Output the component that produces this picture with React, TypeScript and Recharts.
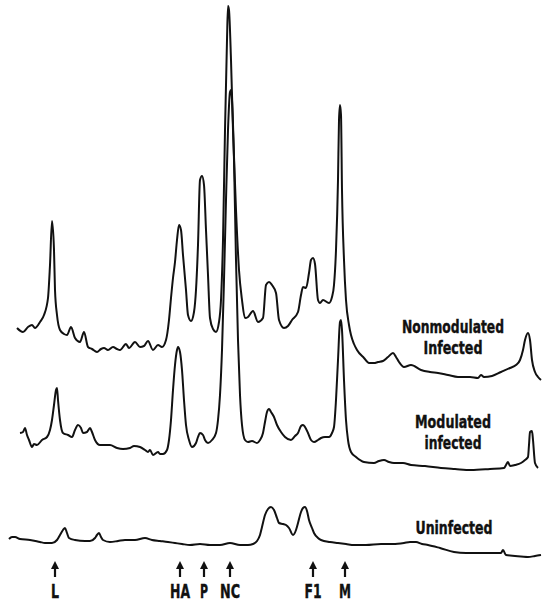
import { LineChart, Line, XAxis, YAxis, ReferenceDot } from 'recharts'

// densitometer scans: x = migration position, y = scan height (axis reversed)
const nonmodulated = [
  [17, 328], [23, 332], [28, 327], [32, 325], [35, 328], [40, 322], [44, 315], [48, 298], [50, 265], [52, 221],
  [54, 250], [55, 290], [57, 315], [60, 330], [64, 334], [67, 335], [71, 327], [75, 338], [80, 342], [84, 332],
  [88, 347], [92, 349], [97, 352], [101, 349], [104, 348], [108, 350], [113, 347], [117, 349], [120, 350], [126, 344],
  [129, 348], [135, 342], [140, 347], [144, 346], [148, 341], [153, 350], [158, 345], [162, 347], [166, 340], [169, 320],
  [171, 298], [173, 278], [175, 262], [177, 240], [179, 225], [181, 230], [183, 255], [186, 290], [188, 315], [191, 321],
  [194, 312], [196, 290], [198, 245], [200, 180], [202, 176], [204, 185], [206, 230], [208, 275], [210, 318], [213, 329],
  [216, 332], [219, 322], [221, 300], [223, 240], [225, 130], [227, 40], [228, 6], [229, 10], [231, 60], [233, 130],
  [236, 210], [239, 270], [242, 300], [245, 318], [248, 317], [253, 311], [258, 322], [263, 318], [266, 285], [269, 282],
  [272, 285], [276, 293], [279, 320], [284, 328], [288, 326], [292, 320], [298, 312], [301, 295], [303, 287], [306, 288],
  [309, 273], [311, 260], [313, 258], [315, 264], [318, 300], [320, 303], [323, 300], [329, 303], [332, 297], [334, 285],
  [336, 250], [338, 180], [339, 120], [340, 105], [341, 115], [342, 190], [344, 260], [346, 300], [349, 325], [351, 335],
  [354, 344], [357, 350], [364, 358], [369, 363], [374, 363], [378, 362], [383, 361], [388, 357], [393, 353], [396, 357],
  [399, 362], [404, 367], [411, 365], [421, 370], [430, 372], [438, 373], [448, 375], [458, 377], [470, 377], [478, 378],
  [481, 375], [484, 377], [492, 376], [501, 372], [510, 368], [516, 365], [520, 360], [523, 350], [525, 340], [528, 333],
  [530, 340], [532, 360], [535, 372], [538, 377], [541, 380],
]

const modulated = [
  [20, 433], [23, 432], [25, 428], [27, 435], [29, 440], [32, 447], [34, 444], [37, 445], [42, 440], [47, 437],
  [50, 430], [52, 420], [54, 405], [56, 390], [57, 388], [58, 400], [60, 420], [63, 433], [68, 435], [72, 437],
  [75, 430], [78, 425], [81, 428], [83, 433], [87, 432], [90, 428], [92, 432], [95, 440], [100, 445], [105, 445],
  [110, 445], [117, 448], [123, 449], [130, 448], [134, 446], [140, 447], [145, 450], [148, 452], [150, 450], [153, 455],
  [158, 452], [160, 454], [163, 454], [167, 450], [169, 440], [171, 420], [173, 390], [175, 365], [177, 350], [178, 347],
  [180, 352], [182, 370], [184, 400], [186, 425], [189, 440], [192, 447], [196, 443], [198, 437], [200, 433], [203, 435],
  [205, 440], [208, 443], [212, 440], [216, 433], [218, 420], [220, 395], [222, 350], [224, 280], [226, 200], [228, 130],
  [230, 92], [231, 90], [232, 100], [234, 160], [236, 260], [238, 340], [240, 395], [242, 425], [245, 440], [248, 442],
  [252, 441], [257, 443], [260, 440], [263, 433], [265, 422], [267, 412], [269, 409], [271, 412], [274, 417], [277, 425],
  [281, 432], [285, 437], [291, 440], [295, 436], [298, 433], [301, 426], [303, 425], [305, 427], [308, 433], [311, 440],
  [314, 442], [318, 440], [321, 438], [325, 437], [329, 437], [332, 433], [334, 427], [336, 400], [338, 360], [340, 322],
  [341, 320], [342, 330], [344, 380], [346, 420], [348, 440], [351, 452], [356, 457], [364, 462], [374, 463], [379, 461],
  [384, 460], [389, 462], [394, 463], [403, 463], [411, 465], [425, 466], [441, 468], [455, 469], [471, 470], [490, 469],
  [504, 468], [506, 465], [508, 462], [510, 466], [515, 465], [521, 463], [525, 460], [528, 457], [529, 445], [530, 432],
  [532, 431], [533, 440], [535, 463], [538, 468],
]

const uninfected = [
  [9, 539], [12, 537], [15, 537], [20, 539], [30, 540], [40, 542], [45, 543], [52, 543], [57, 540], [60, 535], [63, 530],
  [65, 528], [67, 533], [69, 538], [75, 540], [85, 541], [90, 541], [95, 538], [97, 535], [99, 533], [101, 537],
  [103, 540], [110, 542], [118, 541], [125, 540], [135, 540], [145, 538], [152, 540], [160, 541], [168, 542], [175, 543],
  [182, 544], [190, 545], [200, 544], [210, 545], [220, 545], [230, 543], [240, 545], [248, 545], [253, 544], [257, 541],
  [260, 535], [262, 527], [265, 515], [268, 509], [271, 507], [274, 510], [277, 518], [279, 523], [283, 524], [286, 525],
  [289, 528], [293, 535], [296, 530], [298, 523], [301, 512], [303, 508], [305, 507], [307, 511], [309, 520], [312, 528],
  [314, 533], [318, 538], [321, 540], [330, 542], [338, 543], [346, 544], [354, 545], [366, 545], [381, 544], [393, 544],
  [404, 543], [410, 542], [416, 542], [422, 544], [428, 545], [440, 548], [454, 552], [466, 553], [478, 553], [490, 553],
  [501, 553], [503, 550], [506, 555], [515, 556], [528, 557], [535, 556], [541, 555],
]

const markerPositions = [55, 180, 204, 230, 313, 345]
const markerLabels = ['L', 'HA', 'P', 'NC', 'F1', 'M']

const seriesLabelText = ['Nonmodulated', 'Infected', 'Modulated', 'infected', 'Uninfected']
const seriesLabelX = [453, 453, 453, 453, 454]
const seriesLabelY = [326, 347, 421, 442, 527]

// rendered widths of the condensed lettering in the figure
const textWidths: Record<string, number> = {
  Nonmodulated: 102, Infected: 59, Modulated: 76, infected: 57, Uninfected: 77,
  L: 8, HA: 20, P: 8, NC: 20, F1: 17, M: 12,
}

const toPoints = (arr: number[][]) => arr.map(([x, y]) => ({ x, y }))

const FONT = '"DejaVu Sans Condensed", "DejaVu Sans", sans-serif'

function CondensedText({ x, y, value, size = 20 }: { x: number; y: number; value: string; size?: number }) {
  return (
    <text x={x} y={y} textAnchor="middle" fontFamily={FONT} fontWeight={700} fontSize={size} fill="#111"
          stroke="#111" strokeWidth={0.4} textLength={textWidths[value]} lengthAdjust="spacingAndGlyphs">
      {value}
    </text>
  )
}

function MarkerTick(props: any) {
  const { x, y, payload } = props
  const i = markerPositions.indexOf(payload.value)
  return (
    <g>
      <line x1={x} x2={x} y1={y + 6} y2={y + 17} stroke="#111" strokeWidth={2.2} />
      <path d={`M${x - 4},${y + 9} L${x},${y + 1} L${x + 4},${y + 9} Z`} fill="#111" />
      <CondensedText x={x} y={y + 38} value={markerLabels[i]} />
    </g>
  )
}

export default function App() {
  return (
    <div style={{ position: 'absolute', left: 0, top: 0, background: '#fff' }}>
      <LineChart width={543} height={602} margin={{ top: 0, right: 0, left: 0, bottom: 0 }}>
        <XAxis type="number" dataKey="x" domain={[0, 543]} ticks={markerPositions} interval={0}
               axisLine={false} tickLine={false} tickSize={0} tickMargin={0} height={42}
               tick={<MarkerTick />} allowDataOverflow />
        <YAxis type="number" dataKey="y" domain={[0, 560]} reversed hide allowDataOverflow />
        <Line data={toPoints(nonmodulated)} dataKey="y" type="monotone" stroke="#111" strokeWidth={2}
              dot={false} activeDot={false} isAnimationActive={false} />
        <Line data={toPoints(modulated)} dataKey="y" type="monotone" stroke="#111" strokeWidth={2}
              dot={false} activeDot={false} isAnimationActive={false} />
        <Line data={toPoints(uninfected)} dataKey="y" type="monotone" stroke="#111" strokeWidth={2}
              dot={false} activeDot={false} isAnimationActive={false} />
        {seriesLabelText.map((t, i) => (
          <ReferenceDot key={t} x={seriesLabelX[i]} y={seriesLabelY[i]} r={0} fill="none" stroke="none"
                        label={(p: any) => (
                          <CondensedText x={p.viewBox.x + p.viewBox.width / 2} y={p.viewBox.y + p.viewBox.height / 2 + 6.5}
                                         value={t} size={18} />
                        )} />
        ))}
      </LineChart>
    </div>
  )
}
